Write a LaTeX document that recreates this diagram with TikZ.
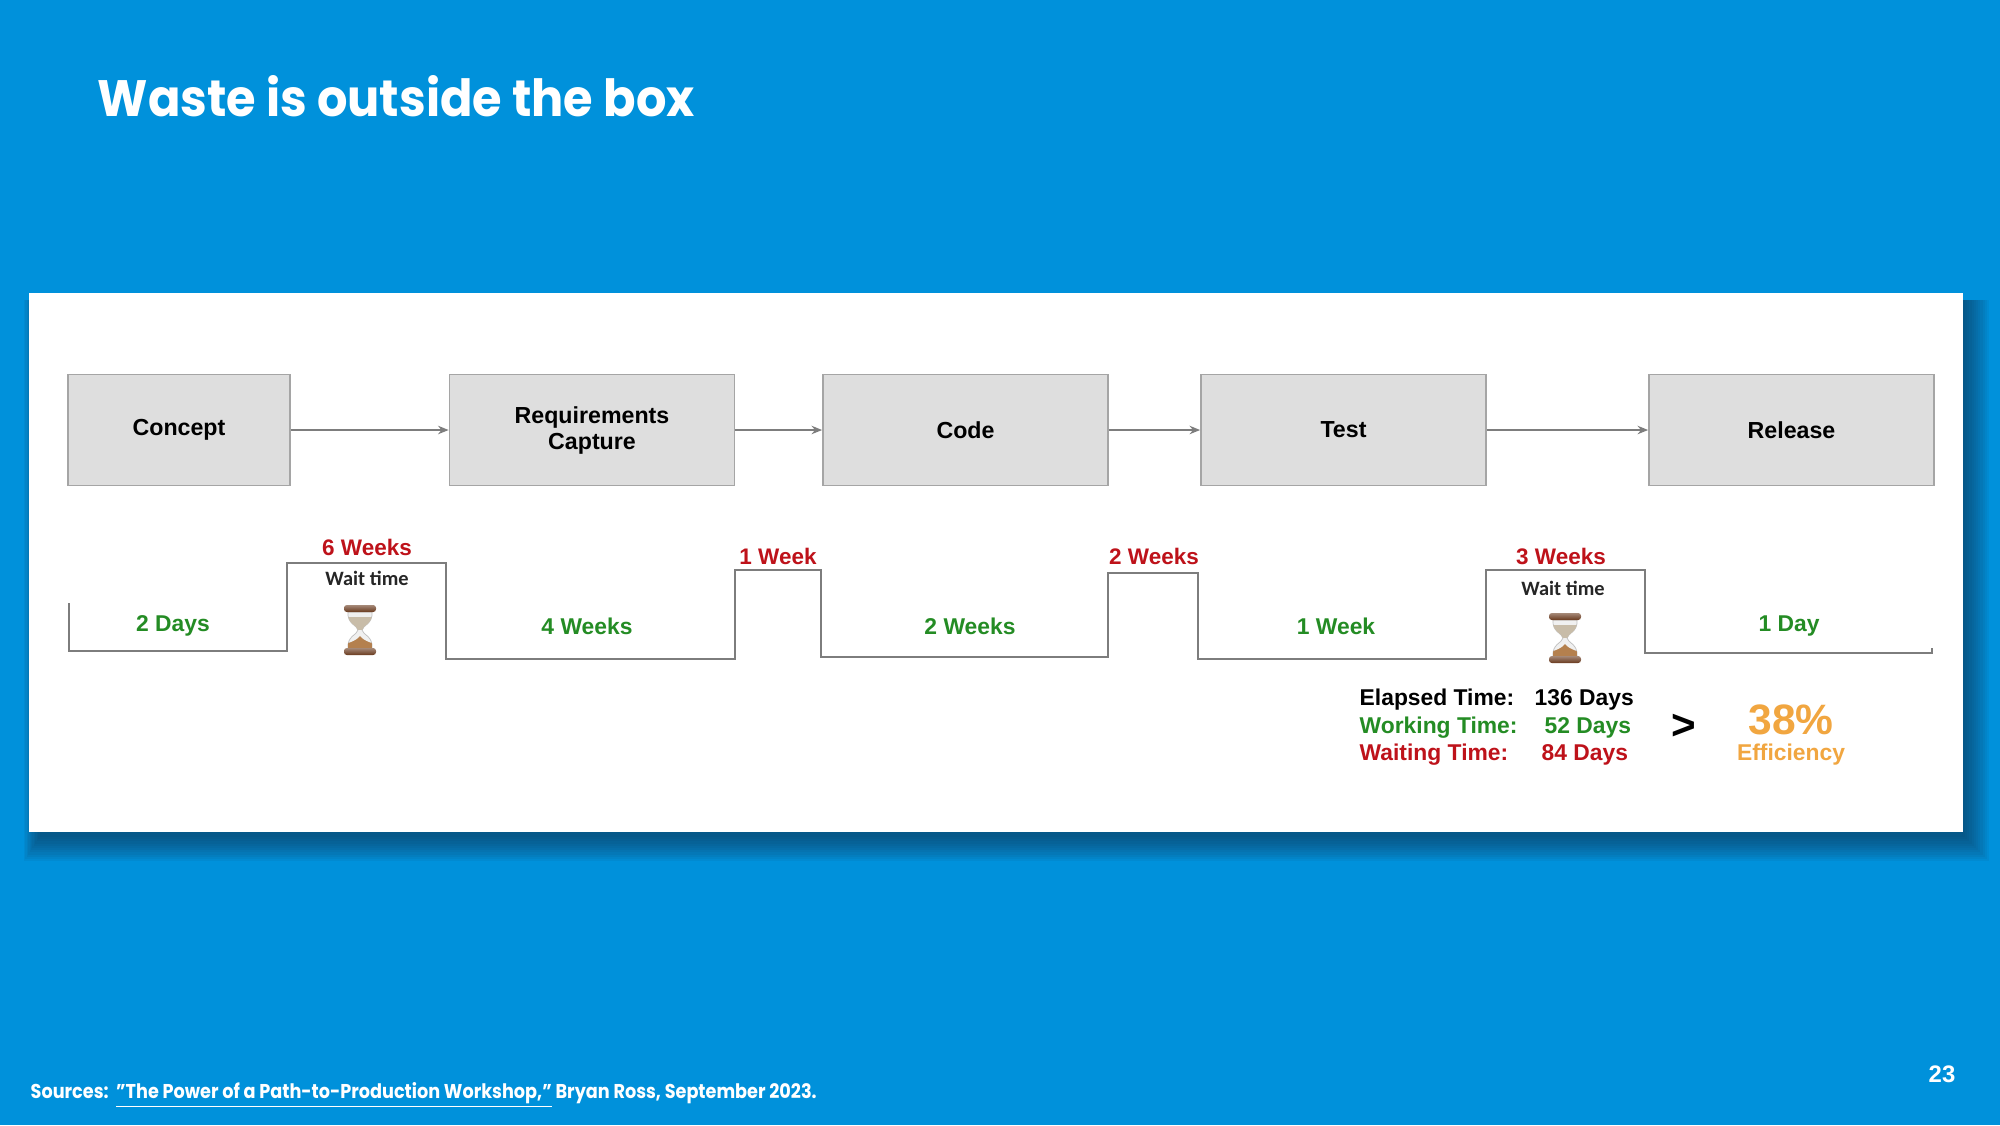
\documentclass[tikz,border=0pt]{standalone}
\usepackage{fontspec}
\setmainfont{Liberation Sans}
\newfontfamily\titlefont{Poppins}
\newfontfamily\waitfont{Carlito}
\usepackage{graphicx}
\usepackage{tikz}
\usetikzlibrary{positioning}
\usetikzlibrary{arrows.meta}
\definecolor{slideblue}{RGB}{0,145,219}
\definecolor{shadowblue}{RGB}{20,55,85}
\definecolor{boxgray}{RGB}{222,222,222}
\definecolor{edgegray}{RGB}{165,165,165}
\definecolor{linegray}{RGB}{125,125,125}
\definecolor{workgreen}{RGB}{36,140,36}
\definecolor{waitred}{RGB}{190,18,26}
\definecolor{effcolor}{RGB}{241,166,64}
\definecolor{capbrown}{RGB}{105,58,30}
\definecolor{glassgray}{RGB}{240,240,240}
\definecolor{sandtop}{RGB}{200,188,168}
\definecolor{sandlow}{RGB}{180,128,78}
\newcommand{\glasspath}{(-0.12,0.18) .. controls (-0.13,0.06) and (-0.03,0.05) .. (-0.02,0) .. controls (-0.03,-0.05) and (-0.13,-0.06) .. (-0.12,-0.18) -- (0.12,-0.18) .. controls (0.13,-0.06) and (0.03,-0.05) .. (0.02,0) .. controls (0.03,0.05) and (0.13,0.06) .. (0.12,0.18) -- cycle}
\tikzset{
stage/.style={ % process boxes
draw=edgegray,
line width=0.5pt,
fill=boxgray,
minimum width=2.85cm,
minimum height=1.11cm,
align=center,
font=\bfseries\fontsize{6.6}{7.4}\selectfont},
every edge/.style={ % arrows between the boxes
draw=linegray,
line width=0.45pt,
-{Stealth[length=3pt,width=2.4pt]}},
worklabel/.style={text=workgreen, font=\bfseries\fontsize{6.5}{7.8}\selectfont},
waitlabel/.style={text=waitred, font=\bfseries\fontsize{6.4}{7.8}\selectfont},
waittext/.style={text=black!85, font=\waitfont\bfseries\fontsize{5.8}{7}\selectfont},
stat/.style={anchor=base west, inner sep=0pt, font=\bfseries\fontsize{6.5}{7.8}\selectfont},
timeline/.style={draw=linegray, line width=0.6pt},
hourglass/.pic={
\fill[glassgray, draw=black!25, line width=0.2pt] \glasspath;
\begin{scope}
\clip \glasspath;
\fill[sandtop] (-0.2,0.13) rectangle (0.2,0);
\fill[sandlow] (-0.2,-0.19) -- (-0.2,-0.15) .. controls (-0.08,-0.13) and (-0.02,-0.09) .. (0,-0.06) .. controls (0.02,-0.09) and (0.08,-0.13) .. (0.2,-0.15) -- (0.2,-0.19) -- cycle;
\end{scope}
\shade[top color=capbrown!60!white, bottom color=capbrown, rounded corners=0.8pt] (-0.16,0.18) rectangle (0.16,0.25);
\shade[top color=capbrown!60!white, bottom color=capbrown, rounded corners=0.8pt] (-0.16,-0.18) rectangle (0.16,-0.25);
}}

\begin{document}
\begin{tikzpicture}
\useasboundingbox (0,0) rectangle (20,-11.25);
\fill[slideblue] (0,0) rectangle (20,-11.25);
% panel shadow and panel
\foreach \k in {0,...,11}
\fill[shadowblue, opacity=0.07] ({0.40-0.015*\k},-3.00) rectangle ({19.65+0.022*\k},{-8.37-0.022*\k});
\fill[white] (0.29,-2.93) rectangle (19.63,-8.32);

\node[anchor=base west, text=white, inner sep=0pt] (title) at (0.97,-1.16) {\resizebox{5.97cm}{0.41cm}{\titlefont\bfseries Waste is outside the box}};

% process boxes
\node[stage, minimum width=2.22cm] (concept) at (1.79,-4.30) {Concept};
\node[stage] (reqcap) at (5.92,-4.30) {Requirements\\Capture};
\node[stage] (code) at (9.655,-4.30) {Code};
\node[stage] (test) at (13.435,-4.30) {Test};
\node[stage] (release) at (17.915,-4.30) {Release};
\draw (concept) edge (reqcap);
\draw (reqcap) edge (code);
\draw (code) edge (test);
\draw (test) edge (release);

% working and waiting steps
\draw[timeline] (0.69,-6.03) -- (0.69,-6.51) -- (2.87,-6.51) -- (2.87,-5.63) -- (4.46,-5.63) -- (4.46,-6.59) -- (7.35,-6.59) -- (7.35,-5.70) -- (8.21,-5.70) -- (8.21,-6.57) -- (11.08,-6.57) -- (11.08,-5.73) -- (11.98,-5.73) -- (11.98,-6.59) -- (14.86,-6.59) -- (14.86,-5.70) -- (16.45,-5.70) -- (16.45,-6.53) -- (19.32,-6.53) -- (19.32,-6.48);

\node[worklabel] (work1) at (1.73,-6.26) {2 Days};
\node[worklabel] (work2) at (5.87,-6.26) {4 Weeks};
\node[worklabel] (work3) at (9.70,-6.26) {2 Weeks};
\node[worklabel] (work4) at (13.36,-6.26) {1 Week};
\node[worklabel] (work5) at (17.89,-6.26) {1 Day};

\node[waitlabel] (wait1) at (3.67,-5.47) {6 Weeks};
\node[waitlabel] (wait2) at (7.78,-5.56) {1 Week};
\node[waitlabel] (wait3) at (11.54,-5.56) {2 Weeks};
\node[waitlabel] (wait4) at (15.61,-5.56) {3 Weeks};

\node[waittext] (waitnote1) at (3.67,-5.78) {Wait time};
\node[waittext] (waitnote2) at (15.63,-5.88) {Wait time};
\pic (glass1) at (3.60,-6.30) {hourglass};
\pic (glass2) at (15.65,-6.38) {hourglass};

% totals
\node[stat] (elapsed) at (13.59,-7.05) {Elapsed Time:};
\node[stat] (elapsedval) at (15.34,-7.05) {136 Days};
\node[stat, text=workgreen] (working) at (13.59,-7.33) {Working Time:};
\node[stat, text=workgreen] (workingval) at (15.44,-7.33) {52 Days};
\node[stat, text=waitred] (waiting) at (13.59,-7.60) {Waiting Time:};
\node[stat, text=waitred] (waitingval) at (15.41,-7.60) {84 Days};
\node[font=\bfseries\fontsize{12}{14}\selectfont] (gt) at (16.84,-7.27) {>};
\node[anchor=base, inner sep=0pt, text=effcolor, font=\bfseries\fontsize{12.1}{14}\selectfont] (pct) at (17.91,-7.34) {38\%};
\node[anchor=base, inner sep=0pt, text=effcolor, font=\bfseries\fontsize{6.5}{7.8}\selectfont] (eff) at (17.91,-7.60) {Efficiency};

% footer
\node[anchor=base west, text=white, inner sep=0pt] (source) at (0.30,-10.98) {\resizebox{7.86cm}{0.16cm}{\titlefont\bfseries Sources:\ \ \underline{”The Power of a Path-to-Production Workshop,”} Bryan Ross, September 2023.}};
\node[anchor=base east, text=white, inner sep=0pt, font=\bfseries\fontsize{6.8}{8}\selectfont] (pagenum) at (19.56,-10.82) {23};
\end{tikzpicture}
\end{document}
